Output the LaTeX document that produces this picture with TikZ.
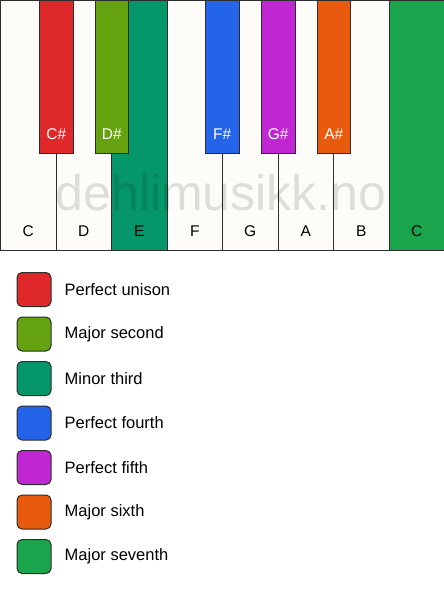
\documentclass[tikz,border=0pt]{standalone}
\usepackage{fontspec}
\setmainfont{Liberation Sans}
\usetikzlibrary{positioning}
\definecolor{keyline}{RGB}{45,45,45}
\definecolor{ivory}{RGB}{253,252,249}
\definecolor{unison}{RGB}{222,40,42}
\definecolor{second}{RGB}{100,162,15}
\definecolor{third}{RGB}{5,150,105}
\definecolor{fourth}{RGB}{36,100,232}
\definecolor{fifth}{RGB}{192,38,210}
\definecolor{sixth}{RGB}{232,90,14}
\definecolor{seventh}{RGB}{26,164,76}
\tikzset{
  whitekey/.style={draw=keyline,line width=1pt,anchor=north west,minimum width=55.5pt,minimum height=249.5pt,inner sep=0pt},
  blackkey/.style={draw=keyline,line width=1pt,anchor=north west,minimum width=33.5pt,minimum height=153pt,inner sep=0pt},
  swatch/.style={draw=keyline,line width=1pt,rounded corners=5pt,anchor=north west,minimum size=34pt,inner sep=0pt},
  keyname/.style={font=\fontsize{15.5}{17}\selectfont,inner sep=0pt}
}
\begin{document}
\begin{tikzpicture}[x=1pt,y=-1pt]
  \useasboundingbox (0,0) rectangle (444,594);
  % white keys
  \foreach \x/\alph/\name/\col in {
      0/w1/C/ivory,
      55.5/w2/D/ivory,
      111/w3/E/third,
      166.5/w4/F/ivory,
      222/w5/G/ivory,
      277.5/w6/A/ivory,
      333/w7/B/ivory,
      388.5/w8/C/seventh}{
    \node[whitekey,fill=\col] (\alph) at (\x,0) {};
    \node[keyname] (\alph-name) at ([yshift=19.5pt]\alph.south) {\name};
  }
  % watermark
  \node[font=\fontsize{50}{52}\selectfont,text=black,text opacity=0.12,inner sep=0pt] (mark) at (221,193) {dehlimusikk.no};
  % black keys
  \foreach \x/\alph/\name/\col in {
      39/b1/C\#/unison,
      94.5/b2/D\#/second,
      205/b3/F\#/fourth,
      261/b4/G\#/fifth,
      316.5/b5/A\#/sixth}{
    \node[blackkey,fill=\col] (\alph) at (\x,0) {};
    \node[keyname,text=white] (\alph-name) at ([yshift=20pt]\alph.south) {\name};
  }
  % legend
  \foreach \i/\alph/\name/\col in {
      0/l1/Perfect unison/unison,
      1/l2/Major second/second,
      2/l3/Minor third/third,
      3/l4/Perfect fourth/fourth,
      4/l5/Perfect fifth/fifth,
      5/l6/Major sixth/sixth,
      6/l7/Major seventh/seventh}{
    \node[swatch,fill=\col] (\alph) at (16.5,272+44.5*\i) {};
    \node[right=13pt of \alph,inner sep=0pt,font=\fontsize{16.5}{18}\selectfont] (\alph-text) {\name};
  }
\end{tikzpicture}
\end{document}
